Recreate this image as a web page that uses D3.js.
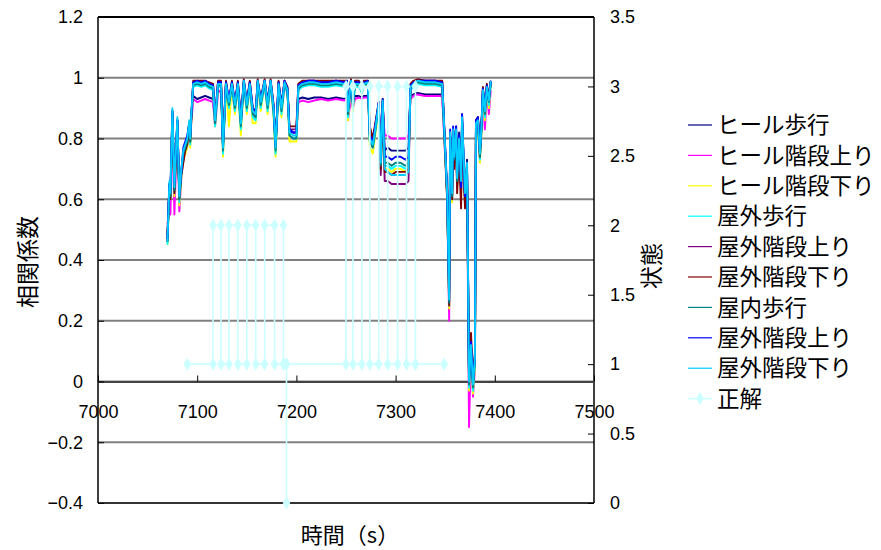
<!DOCTYPE html>
<html>
<head>
<meta charset="utf-8">
<script src="https://cdn.jsdelivr.net/npm/d3@7"></script>
<style>
body{margin:0;background:#fff;}
svg{display:block;}
text{font-family:"Liberation Sans","Noto Sans CJK JP",sans-serif;}
.jp{font-family:"Noto Sans CJK JP","Liberation Sans",sans-serif;}
</style>
</head>
<body>
<svg id="c" width="881" height="550"></svg>
<script>
const T = [7070,7071,7072,7073,7075,7077,7080,7082,7084,7086,
7088,7090,7092,7093,7094,7096,7100,7104,7108,7112,
7116,7118,7121,7124,7126,7129,7132,7135,7138,7141,
7144,7147,7150,7153,7156,7159,7161,7164,7168,7171,
7174,7177,7179,7182,7185,7188,7191,7193,7197,7200,
7202,7206,7212,7218,7225,7232,7240,7248,7251,7252,
7255,7257,7259,7263,7266,7268,7272,7274,7277,7279,
7283,7285,7287,7289,7292,7296,7300,7305,7310,7313,
7315,7318,7322,7330,7340,7347,7352,7354,7355,7357,
7358,7359,7361,7362,7364,7366,7367,7369,7370,7372,
7374,7376,7378,7380,7381,7383,7385,7387,7388,7390,
7392,7394,7396];

const seriesNames = ["ヒール歩行","ヒール階段上り","ヒール階段下り","屋外歩行","屋外階段上り","屋外階段下り","屋内歩行","屋外階段上り","屋外階段下り"];
const seriesColors = ["#000080","#FF00FF","#FFFF00","#00FFFF","#800080","#800000","#008080","#0000FF","#00CCFF"];

const heelWalk = [0.48,0.57,0.64,0.60,0.88,0.62,0.86,0.60,0.69,0.75,
 0.77,0.79,0.85,0.80,0.87,0.94,0.93,0.935,0.94,0.935,
 0.93,0.85,0.97,0.975,0.78,0.975,0.91,0.975,0.90,0.975,
 0.86,0.98,0.91,0.975,0.89,0.88,0.98,0.92,0.98,0.91,
 0.98,0.90,0.78,0.975,0.90,0.98,0.955,0.82,0.82,0.82,
 0.93,0.935,0.93,0.935,0.935,0.93,0.935,0.93,0.935,0.87,
 0.94,0.91,0.94,0.94,0.935,0.94,0.94,0.83,0.80,0.83,
 0.91,0.76,0.92,0.76,0.77,0.76,0.76,0.76,0.76,0.77,
 0.94,0.945,0.95,0.945,0.945,0.945,0.62,0.30,0.82,0.62,
 0.83,0.73,0.84,0.66,0.82,0.62,0.88,0.70,0.60,0.73,
 0.01,0.12,0.00,0.08,0.85,0.87,0.76,0.88,0.96,0.89,
 0.97,0.92,0.99];
const heelUp = [0.52,0.54,0.60,0.55,0.86,0.55,0.84,0.56,0.67,0.73,
 0.76,0.78,0.83,0.80,0.85,0.93,0.92,0.925,0.93,0.925,
 0.92,0.84,0.95,0.96,0.77,0.96,0.90,0.96,0.89,0.96,
 0.85,0.97,0.90,0.96,0.88,0.87,0.97,0.91,0.97,0.90,
 0.97,0.89,0.77,0.96,0.89,0.97,0.95,0.83,0.82,0.82,
 0.92,0.925,0.92,0.925,0.93,0.925,0.93,0.925,0.93,0.86,
 0.935,0.90,0.93,0.935,0.93,0.935,0.935,0.82,0.81,0.82,
 0.90,0.81,0.91,0.81,0.81,0.80,0.80,0.80,0.80,0.81,
 0.93,0.94,0.945,0.94,0.94,0.94,0.60,0.20,0.78,0.60,
 0.79,0.70,0.78,0.65,0.76,0.63,0.84,0.68,0.60,0.70,
 -0.15,0.10,-0.05,0.04,0.82,0.84,0.73,0.85,0.94,0.83,
 0.95,0.88,0.96];
const heelDown = [0.45,0.54,0.63,0.60,0.87,0.61,0.84,0.58,0.67,0.73,
 0.75,0.77,0.83,0.77,0.85,0.975,0.98,0.975,0.98,0.97,
 0.965,0.84,0.975,0.975,0.74,0.975,0.84,0.975,0.88,0.975,
 0.81,0.985,0.88,0.975,0.85,0.85,0.985,0.89,0.985,0.88,
 0.985,0.87,0.74,0.975,0.87,0.98,0.95,0.79,0.79,0.79,
 0.965,0.975,0.98,0.98,0.975,0.975,0.98,0.975,0.98,0.86,
 0.985,0.89,0.975,0.975,0.95,0.975,0.98,0.77,0.75,0.80,
 0.89,0.69,0.90,0.70,0.70,0.69,0.70,0.70,0.69,0.70,
 0.965,0.975,0.985,0.98,0.98,0.975,0.59,0.24,0.79,0.59,
 0.80,0.71,0.80,0.64,0.77,0.63,0.84,0.67,0.59,0.69,
 -0.03,0.11,-0.04,0.05,0.82,0.83,0.72,0.84,0.95,0.86,
 0.96,0.90,0.98];
const outWalk = [0.45,0.55,0.64,0.60,0.88,0.62,0.85,0.59,0.68,0.74,
 0.76,0.78,0.84,0.78,0.86,0.97,0.975,0.97,0.975,0.965,
 0.96,0.84,0.97,0.97,0.75,0.97,0.90,0.97,0.89,0.97,
 0.83,0.98,0.89,0.97,0.87,0.86,0.98,0.90,0.98,0.89,
 0.98,0.88,0.75,0.97,0.88,0.975,0.95,0.81,0.80,0.80,
 0.96,0.97,0.975,0.975,0.97,0.97,0.975,0.97,0.975,0.87,
 0.98,0.90,0.97,0.97,0.95,0.97,0.975,0.79,0.77,0.81,
 0.90,0.70,0.91,0.71,0.71,0.70,0.71,0.71,0.70,0.71,
 0.96,0.97,0.98,0.975,0.975,0.97,0.60,0.25,0.80,0.60,
 0.81,0.72,0.81,0.65,0.78,0.64,0.85,0.68,0.60,0.70,
 -0.02,0.10,-0.03,0.06,0.83,0.84,0.73,0.85,0.95,0.87,
 0.96,0.91,0.98];
const outUp = [0.46,0.56,0.65,0.61,0.89,0.63,0.86,0.61,0.69,0.75,
 0.77,0.80,0.85,0.80,0.87,0.985,0.99,0.985,0.99,0.98,
 0.975,0.86,0.985,0.985,0.77,0.985,0.92,0.985,0.91,0.985,
 0.85,0.99,0.91,0.985,0.89,0.88,0.99,0.92,0.99,0.91,
 0.99,0.90,0.77,0.985,0.90,0.99,0.965,0.83,0.83,0.83,
 0.975,0.985,0.99,0.99,0.985,0.985,0.99,0.985,0.99,0.89,
 0.99,0.915,0.985,0.985,0.965,0.985,0.99,0.82,0.79,0.83,
 0.915,0.68,0.925,0.66,0.66,0.65,0.65,0.65,0.65,0.66,
 0.975,0.985,0.99,0.99,0.99,0.985,0.61,0.26,0.81,0.61,
 0.82,0.72,0.82,0.65,0.78,0.63,0.86,0.68,0.60,0.70,
 0.00,0.12,-0.01,0.08,0.85,0.86,0.75,0.87,0.96,0.89,
 0.975,0.925,0.99];
const outDown = [0.47,0.57,0.64,0.60,0.88,0.62,0.85,0.60,0.68,0.72,
 0.76,0.78,0.84,0.79,0.86,0.99,0.99,0.99,0.99,0.985,
 0.98,0.86,0.99,0.99,0.78,0.99,0.92,0.99,0.91,0.99,
 0.86,0.995,0.92,0.99,0.90,0.89,0.995,0.93,0.995,0.92,
 0.995,0.91,0.78,0.99,0.91,0.99,0.97,0.84,0.84,0.84,
 0.98,0.99,0.99,0.99,0.99,0.99,0.99,0.99,0.99,0.89,
 0.995,0.92,0.99,0.99,0.97,0.99,0.99,0.84,0.80,0.84,
 0.92,0.70,0.93,0.69,0.69,0.68,0.69,0.69,0.69,0.70,
 0.98,0.99,0.995,0.99,0.99,0.99,0.60,0.25,0.80,0.60,
 0.81,0.70,0.81,0.62,0.76,0.57,0.85,0.65,0.57,0.68,
 0.02,0.16,0.01,0.10,0.86,0.87,0.74,0.87,0.97,0.89,
 0.98,0.93,0.99];
const inWalk = [0.46,0.55,0.65,0.61,0.89,0.63,0.86,0.60,0.69,0.75,
 0.77,0.79,0.85,0.79,0.87,0.975,0.98,0.975,0.98,0.97,
 0.965,0.85,0.975,0.975,0.76,0.975,0.91,0.975,0.90,0.975,
 0.84,0.985,0.90,0.975,0.88,0.87,0.985,0.91,0.985,0.90,
 0.985,0.89,0.76,0.975,0.89,0.98,0.955,0.81,0.80,0.80,
 0.965,0.975,0.98,0.98,0.975,0.975,0.98,0.975,0.98,0.88,
 0.985,0.91,0.975,0.975,0.955,0.975,0.98,0.79,0.77,0.81,
 0.91,0.71,0.92,0.72,0.72,0.71,0.72,0.72,0.71,0.72,
 0.965,0.975,0.985,0.98,0.98,0.975,0.61,0.26,0.81,0.61,
 0.82,0.73,0.82,0.66,0.79,0.65,0.86,0.69,0.61,0.71,
 -0.01,0.11,-0.02,0.07,0.84,0.85,0.74,0.86,0.955,0.88,
 0.965,0.92,0.985];
const outUp2 = [0.47,0.57,0.65,0.63,0.89,0.65,0.86,0.62,0.69,0.77,
 0.79,0.81,0.85,0.81,0.87,0.985,0.99,0.985,0.99,0.98,
 0.975,0.87,0.985,0.985,0.78,0.985,0.93,0.985,0.92,0.985,
 0.86,0.99,0.92,0.985,0.90,0.89,0.99,0.93,0.99,0.92,
 0.99,0.91,0.78,0.985,0.91,0.99,0.965,0.83,0.82,0.82,
 0.975,0.985,0.99,0.99,0.985,0.985,0.99,0.985,0.99,0.90,
 0.99,0.92,0.985,0.985,0.965,0.985,0.99,0.81,0.79,0.83,
 0.92,0.73,0.93,0.74,0.74,0.73,0.74,0.74,0.73,0.74,
 0.975,0.985,0.99,0.99,0.99,0.985,0.63,0.29,0.83,0.63,
 0.84,0.75,0.84,0.68,0.81,0.64,0.88,0.69,0.61,0.71,
 0.01,0.13,0.00,0.09,0.86,0.87,0.76,0.88,0.965,0.90,
 0.975,0.93,0.99];
const outDown2 = [0.46,0.56,0.66,0.62,0.90,0.64,0.87,0.61,0.70,0.76,
 0.78,0.80,0.86,0.80,0.88,0.98,0.985,0.98,0.985,0.975,
 0.97,0.86,0.98,0.98,0.77,0.98,0.92,0.98,0.91,0.98,
 0.85,0.99,0.91,0.98,0.89,0.88,0.99,0.92,0.99,0.91,
 0.99,0.90,0.77,0.98,0.90,0.985,0.96,0.82,0.81,0.81,
 0.97,0.98,0.985,0.985,0.98,0.98,0.985,0.98,0.985,0.89,
 0.99,0.915,0.98,0.98,0.96,0.98,0.985,0.80,0.78,0.82,
 0.915,0.72,0.925,0.70,0.69,0.68,0.68,0.68,0.68,0.69,
 0.97,0.98,0.99,0.985,0.985,0.98,0.62,0.27,0.82,0.62,
 0.83,0.74,0.83,0.67,0.80,0.66,0.87,0.70,0.62,0.72,
 0.00,0.12,-0.01,0.08,0.85,0.86,0.75,0.87,0.96,0.89,
 0.97,0.925,0.99];

const answerName = "正解";
const answerT = [7090,
 7116,7116,7124,7124,7132,7132,7141,7141,7150,7150,7159,7159,7168,7168,7178,7178,7187,7187,7187,
 7190,7190,7190,
 7250,7250,7257,7257,7266,7266,7274,7274,7283,7283,7292,7292,7302,7302,7311,7311,7320,7320,7320,
 7349];
const answerV = [1,
 1,2,2,1,1,2,2,1,1,2,2,1,1,2,2,1,1,2,1,
 1,0,1,
 1,3,3,1,1,3,3,1,1,3,3,1,1,3,3,1,1,3,1,
 1];

const xTicks = [7000,7100,7200,7300,7400,7500];
const yLeftTicks = [-0.4,-0.2,0,0.2,0.4,0.6,0.8,1,1.2];
const yRightTicks = [0,0.5,1,1.5,2,2.5,3,3.5];

const seriesValues = [heelWalk,heelUp,heelDown,outWalk,outUp,outDown,inWalk,outUp2,outDown2];

const svg = d3.select("#c");
const L = 98, R = 594, TOP = 17, BOT = 503;
const x = d3.scaleLinear().domain([7000,7500]).range([L,R]);
const yL = d3.scaleLinear().domain([-0.4,1.2]).range([BOT,TOP]);
const yR = d3.scaleLinear().domain([0,3.5]).range([BOT,TOP]);

// gridlines
svg.append("g").selectAll("line").data(yLeftTicks.filter(v => v > -0.4 && v < 1.2)).join("line")
  .attr("x1", L).attr("x2", R).attr("y1", d => yL(d)).attr("y2", d => yL(d))
  .attr("stroke", "#808080").attr("stroke-width", 2);

// frame
svg.append("line").attr("x1",L).attr("x2",R).attr("y1",TOP).attr("y2",TOP).attr("stroke","#000").attr("stroke-width",2);
svg.append("line").attr("x1",L).attr("x2",R).attr("y1",BOT).attr("y2",BOT).attr("stroke","#333").attr("stroke-width",2);
svg.append("line").attr("x1",L).attr("x2",L).attr("y1",TOP).attr("y2",BOT).attr("stroke","#000").attr("stroke-width",1.5);
svg.append("line").attr("x1",R).attr("x2",R).attr("y1",TOP).attr("y2",BOT).attr("stroke","#000").attr("stroke-width",1.5);

// axes
const gx = svg.append("g").attr("transform", `translate(0,${yL(0)})`)
  .call(d3.axisBottom(x).tickValues(xTicks).tickSizeInner(-6).tickSizeOuter(0).tickPadding(24).tickFormat(d3.format("d")));
gx.select(".domain").attr("stroke","#444").attr("stroke-width",2);
const gl = svg.append("g").attr("transform", `translate(${L},0)`)
  .call(d3.axisLeft(yL).tickValues(yLeftTicks).tickSizeInner(-6).tickSizeOuter(0).tickPadding(15).tickFormat(d3.format("")));
gl.select(".domain").remove();
const gr = svg.append("g").attr("transform", `translate(${R},0)`)
  .call(d3.axisRight(yR).tickValues(yRightTicks).tickSizeInner(-6).tickSizeOuter(0).tickPadding(16).tickFormat(d3.format("")));
gr.select(".domain").remove();
svg.selectAll(".tick text").attr("font-size", 18).attr("fill","#000")
  .attr("font-family", "'Liberation Sans', sans-serif");
svg.selectAll(".tick line").attr("stroke","#000");

// data lines
const line = d3.line().x((d,i) => x(T[i])).y(d => yL(d));
seriesValues.forEach((vals, k) => {
  svg.append("path").datum(vals).attr("d", line)
    .attr("fill","none").attr("stroke", seriesColors[k]).attr("stroke-width", 1.9)
    .attr("stroke-linejoin","round");
});

// answer series
const ansColor = "#CCFFFF";
const ansLine = d3.line().x((d,i) => x(answerT[i])).y(d => yR(d));
svg.append("path").datum(answerV).attr("d", ansLine)
  .attr("fill","none").attr("stroke", ansColor).attr("stroke-width", 1.6);
const diamond = d3.symbol().type(d3.symbolDiamond).size(50);
svg.append("g").selectAll("path").data(answerV).join("path")
  .attr("d", diamond)
  .attr("transform", (d,i) => `translate(${x(answerT[i])},${yR(d)})`)
  .attr("fill", ansColor);

// axis titles
svg.append("text").attr("class","jp").attr("transform","translate(36,262) rotate(-90)")
  .attr("text-anchor","middle").attr("font-size",23).text("相関係数");
svg.append("text").attr("class","jp").attr("transform","translate(660,266) rotate(-90)")
  .attr("text-anchor","middle").attr("font-size",23).text("状態");
svg.append("text").attr("class","jp").attr("x",350).attr("y",543)
  .attr("text-anchor","middle").attr("font-size",22).text("時間（s）");

// legend
const legNames = seriesNames.concat([answerName]);
const legColors = seriesColors.concat([ansColor]);
const lg = svg.append("g");
legNames.forEach((n, i) => {
  const yy = 125 + i * 30.4;
  lg.append("line").attr("x1",688).attr("x2",712).attr("y1",yy).attr("y2",yy)
    .attr("stroke", legColors[i]).attr("stroke-width", i === 9 ? 1.6 : 1.2);
  if (i === 9) {
    lg.append("path").attr("d", diamond).attr("transform",`translate(700,${yy})`).attr("fill", ansColor);
  }
  lg.append("text").attr("class","jp").attr("x",717).attr("y",yy).attr("dy","0.36em")
    .attr("font-size",22.5).text(n);
});
</script>
</body>
</html>
